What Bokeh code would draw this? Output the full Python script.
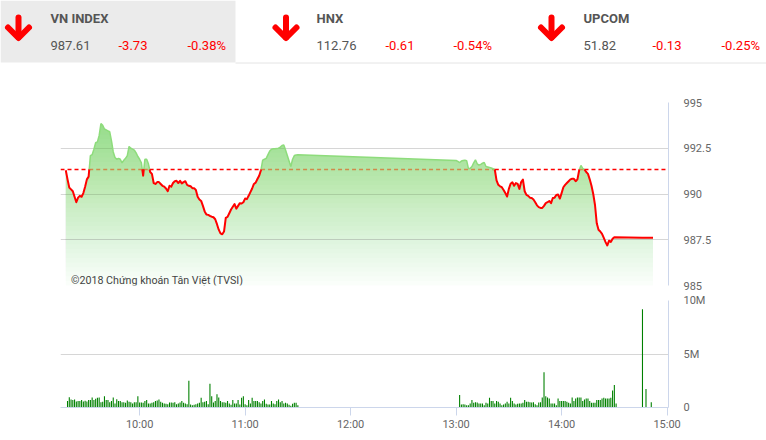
import numpy as np
from bokeh.plotting import figure
from bokeh.layouts import column
from bokeh.models import Range1d, FixedTicker, Label
from bokeh.embed import file_html
from bokeh.resources import INLINE
from bokeh.core.properties import value

# ---------------- data ----------------
idx_names = ["VN INDEX", "HNX", "UPCOM"]
idx_values = ["987.61", "112.76", "51.82"]
idx_changes = ["-3.73", "-0.61", "-0.13"]
idx_pcts = ["-0.38%", "-0.54%", "-0.25%"]

ref_price = 991.34

price_morning_start = "09:18"
price_morning = [
    991.30, 990.80, 990.35, 990.25, 990.15, 989.85, 989.55, 989.80, 989.90, 989.85,
    990.05, 990.40, 990.80, 990.95, 992.10, 992.15, 992.45, 992.80, 992.85, 993.20,
    993.85, 993.75, 993.55, 993.50, 993.45, 993.40, 992.90, 992.30, 992.00, 991.90,
    991.95, 991.90, 991.70, 991.85, 991.95, 992.10, 992.60, 992.50, 992.45, 992.40,
    992.25, 992.05, 991.90, 991.70, 991.00, 991.90, 991.90, 991.65, 991.20, 991.10,
    990.60, 990.55, 990.65, 990.65, 990.55, 990.45, 990.40, 990.30, 990.15, 990.45,
    990.40, 990.60, 990.70, 990.72, 990.60, 990.72, 990.58, 990.65, 990.70, 990.50,
    990.45, 990.42, 990.32, 990.32, 990.22, 989.85, 989.70, 989.62, 989.35, 989.05,
    988.88, 988.86, 988.80, 988.76, 988.73, 988.62, 988.35, 988.05, 987.85, 987.80,
    987.95, 988.70, 988.75, 988.95, 989.15, 989.30, 989.45, 989.20, 989.35, 989.50,
    989.48, 989.55, 989.75, 989.72, 989.90, 990.10, 990.30, 990.55, 990.62, 990.82,
    991.00, 991.30, 991.85, 991.90, 991.95, 992.15, 992.35, 992.45, 992.47, 992.47,
    992.48, 992.50, 992.56, 992.65, 992.68, 992.40, 992.10, 991.80, 991.50, 991.90,
    992.10, 992.13, 992.14,
]

price_afternoon_start = "13:00"
price_afternoon = [
    991.83, 991.78, 991.72, 991.80, 991.83, 991.85, 991.82, 991.40, 991.40, 991.50,
    991.70, 991.87, 991.65, 991.58, 991.62, 991.68, 991.72, 991.50, 991.48, 991.45,
    991.42, 991.38, 991.34, 990.74, 990.50, 990.42, 990.37, 990.22, 990.05, 989.86,
    990.28, 990.56, 990.64, 990.45, 990.60, 990.55, 990.28, 990.65, 990.79, 990.15,
    989.95, 989.90, 989.80, 989.78, 989.70, 989.55, 989.38, 989.28, 989.24, 989.24,
    989.35, 989.50, 989.55, 989.62, 989.50, 989.78, 989.80, 989.95, 989.97, 989.75,
    990.05, 990.37, 990.50, 990.60, 990.70, 990.80, 990.83, 990.83, 990.70, 990.80,
    991.30, 991.56, 991.40, 991.34, 991.20, 991.10, 990.80, 990.45, 990.00, 989.40,
    988.40, 988.05, 987.95, 987.82, 987.60, 987.37, 987.19, 987.45, 987.38, 987.55,
    987.64,
]

price_tail_times = ["14:46", "14:52"]
price_tail = [987.61, 987.61]

# volume, millions of shares per minute
vol_morning_start = "09:19"
vol_morning = [
    0.60, 0.95, 0.75, 0.70, 0.75, 0.55, 0.60, 0.60, 0.70, 0.55,
    0.62, 0.55, 0.70, 0.70, 0.94, 0.70, 0.81, 0.90, 0.94, 0.50,
    0.53, 1.06, 0.70, 0.70, 0.50, 0.60, 0.94, 0.38, 0.78, 0.60,
    0.60, 0.50, 0.50, 0.44, 0.66, 0.53, 0.50, 0.38, 0.50, 0.50,
    1.06, 0.47, 0.47, 0.44, 0.60, 0.70, 0.38, 0.38, 0.44, 0.50,
    0.60, 0.66, 0.75, 0.53, 0.44, 0.38, 0.34, 0.31, 0.47, 0.47,
    0.44, 0.50, 0.31, 0.38, 0.47, 0.60, 0.44, 0.38, 0.31, 2.50,
    0.28, 0.22, 0.25, 0.31, 0.38, 0.44, 0.90, 0.50, 0.53, 0.60,
    0.31, 2.22, 1.06, 0.47, 0.60, 1.25, 0.94, 0.60, 0.50, 0.50,
    0.44, 0.60, 0.38, 0.25, 0.69, 0.38, 0.38, 0.69, 0.28, 0.90,
    1.06, 0.31, 0.22, 0.69, 0.38, 0.90, 0.60, 0.60, 0.60, 0.50,
    0.38, 0.60, 0.75, 0.34, 0.28, 0.28, 0.60, 0.38, 0.31, 0.60,
    0.75, 0.50, 0.60, 0.38, 0.44, 0.38, 0.25, 0.16, 0.34, 0.44,
    0.44, 0.20,
]

vol_afternoon_start = "13:02"
vol_afternoon = [
    1.16, 0.28, 0.31, 0.28, 0.22, 0.22, 0.38, 0.69, 0.44, 0.50,
    0.47, 0.38, 0.38, 0.38, 0.22, 0.44, 0.38, 0.90, 0.60, 0.60,
    0.38, 0.60, 0.53, 0.38, 0.22, 0.28, 0.38, 0.53, 0.38, 0.90,
    0.60, 0.38, 0.28, 0.34, 0.38, 0.38, 0.44, 0.69, 0.53, 0.53,
    0.50, 0.47, 0.50, 0.31, 0.22, 0.47, 0.50, 0.94, 3.30, 1.06,
    0.94, 0.84, 0.38, 0.38, 0.38, 0.22, 0.85, 0.60, 0.60, 0.60,
    0.60, 0.53, 0.44, 0.38, 0.94, 0.60, 0.84, 0.94, 0.94, 0.94,
    0.60, 0.75, 0.84, 0.84, 0.60, 0.44, 0.44, 0.44, 0.69, 0.69,
    0.69, 0.84, 0.90, 0.84, 0.84, 0.84, 0.90, 1.60, 2.10, 0.38,
]

vol_tail_times = ["14:38", "14:46", "14:48", "14:51"]
vol_tail = [0.05, 9.19, 1.72, 0.50]

time_tick_labels = ["10:00", "11:00", "12:00", "13:00", "14:00", "15:00"]
price_ticks = [985, 987.5, 990, 992.5, 995]
price_tick_labels = ["985", "987.5", "990", "992.5", "995"]
vol_ticks = [0, 5e6, 10e6]
vol_tick_labels = ["0", "5M", "10M"]

watermark = "©2018 Chứng khoán Tân Việt (TVSI)"


def to_min(s):
    h, m = s.split(":")
    return int(h) * 60 + int(m)


# ---------------- derived arrays ----------------
t_price = np.concatenate([
    to_min(price_morning_start) + np.arange(len(price_morning)),
    to_min(price_afternoon_start) + np.arange(len(price_afternoon)),
    np.array([to_min(s) for s in price_tail_times]),
]).astype(float)
y_price = np.array(price_morning + price_afternoon + price_tail, dtype=float)

t_vol = np.concatenate([
    to_min(vol_morning_start) + np.arange(len(vol_morning)),
    to_min(vol_afternoon_start) + np.arange(len(vol_afternoon)),
    np.array([to_min(s) for s in vol_tail_times]),
]).astype(float)
y_vol = np.array(vol_morning + vol_afternoon + vol_tail, dtype=float) * 1e6

# insert threshold crossings so line colour switches exactly at the reference
xs_l, ys_l = [t_price[0]], [y_price[0]]
for i in range(1, len(t_price)):
    a0, a1 = y_price[i - 1], y_price[i]
    if (a0 - ref_price) * (a1 - ref_price) < 0:
        tc = t_price[i - 1] + (ref_price - a0) / (a1 - a0) * (t_price[i] - t_price[i - 1])
        xs_l.append(tc)
        ys_l.append(ref_price)
    xs_l.append(t_price[i])
    ys_l.append(a1)
xs_l = np.array(xs_l)
ys_l = np.array(ys_l)
eps = 1e-9
y_red = np.where(ys_l <= ref_price + eps, ys_l, np.nan)
y_green = np.where(ys_l >= ref_price - eps, ys_l, np.nan)

FONT = "Roboto"
W = 766

# ---------------- header ----------------
hdr = figure(width=W, height=92, x_range=Range1d(0, W), y_range=Range1d(92, 0),
             x_axis_location=None, y_axis_location=None, toolbar_location=None,
             output_backend="svg", min_border=0)
hdr.frame_align = False
hdr.grid.visible = False
hdr.outline_line_color = None
hdr.quad(left=[0], right=[235], top=[0], bottom=[62], fill_color="#ebebeb", line_color=None)
hdr.segment(x0=[235], y0=[62.5], x1=[W], y1=[62.5], line_color="#e4e4e4", line_width=1)

arrow_cx = [18, 285.5, 551]
axs, ays = [], []
for cx in arrow_cx:
    axs += [[cx, cx], [cx - 10.5, cx, cx + 10.5]]
    ays += [[17, 37], [27, 37.5, 27]]
hdr.multi_line(xs=axs, ys=ays, line_color="#ff0000", line_width=6,
               line_cap="round", line_join="round")

name_x = [50, 316, 583]
chg_x = [118, 385, 652]
pct_x = [187, 453, 721]
hdr.text(x=name_x, y=[18] * 3, text=idx_names, text_font=value(FONT),
         text_font_style="bold", text_font_size="13px", text_color="#555555",
         text_baseline="middle")
hdr.text(x=name_x, y=[45] * 3, text=idx_values, text_font=value(FONT),
         text_font_size="13px", text_color="#555555", text_baseline="middle")
hdr.text(x=chg_x, y=[45] * 3, text=idx_changes, text_font=value(FONT),
         text_font_size="13px", text_color="#ff0000", text_baseline="middle")
hdr.text(x=pct_x, y=[45] * 3, text=idx_pcts, text_font=value(FONT),
         text_font_size="13px", text_color="#ff0000", text_baseline="middle")

# ---------------- price pane ----------------
x_range = Range1d(555, 900.8)
pf = figure(width=W, height=200, x_range=x_range, y_range=Range1d(985, 995),
            x_axis_location=None, y_axis_location="right", toolbar_location=None,
            output_backend="svg", min_border_left=60, min_border_right=98,
            min_border_top=10, min_border_bottom=7)
pf.outline_line_color = None
pf.xgrid.visible = False
pticker = FixedTicker(ticks=price_ticks)
pf.ygrid.ticker = pticker
pf.ygrid.grid_line_color = "#d6d6d6"
ya = pf.yaxis[0]
ya.ticker = pticker
ya.major_label_overrides = {t: l for t, l in zip(price_ticks, price_tick_labels)}
ya.axis_line_color = "#ccd6eb"
ya.major_tick_line_color = None
ya.minor_tick_line_color = None
ya.major_tick_out = 0
ya.major_tick_in = 0
ya.major_label_standoff = 15
ya.major_label_text_font = FONT
ya.major_label_text_font_size = "11px"
ya.major_label_text_color = "#666666"

# gradient area built from stacked translucent layers
N = 40
lo, hi = 985.0, 995.0
levels = lo + (hi - lo) * np.arange(N) / N
cov = 0.03 + (0.72 - 0.03) * np.arange(N) / (N - 1)
prev = 0.0
for k in range(N):
    a = 1 - (1 - cov[k]) / (1 - prev)
    prev = cov[k]
    pf.varea(x=t_price, y1=levels[k], y2=np.maximum(y_price, levels[k]),
             fill_color="#6ed65a", fill_alpha=float(a))

# reference (previous close) line: red over white, muted where it sits under the area
ref_x = np.concatenate([[x_range.start], xs_l, [x_range.end]])
ref_side = np.concatenate([[ref_price - 1], ys_l, [ref_price - 1]])
ref_red = np.where(ref_side <= ref_price + eps, ref_price, np.nan)
ref_under = np.where(ref_side >= ref_price - eps, ref_price, np.nan)
pf.line(ref_x, ref_under, line_color="#d08a4a", line_dash="4 3", line_width=1.5)
pf.line(ref_x, ref_red, line_color="#ff0000", line_dash="4 3", line_width=1.5)

pf.line(xs_l, y_green, line_color="#8edc7c", line_width=1.5)
pf.line(xs_l, y_red, line_color="#ff0000", line_width=2, line_join="round")

pf.add_layout(Label(x=561, y=985.25, text=watermark, text_font=FONT,
                    text_font_size="10.7px", text_color="#444444",
                    text_baseline="alphabetic"))

# ---------------- volume pane ----------------
vf = figure(width=W, height=146, x_range=x_range, y_range=Range1d(0, 10e6),
            y_axis_location="right", toolbar_location=None, output_backend="svg",
            min_border_left=60, min_border_right=98, min_border_top=8,
            min_border_bottom=31)
vf.outline_line_color = None
vf.xgrid.visible = False
vticker = FixedTicker(ticks=vol_ticks)
vf.ygrid.ticker = vticker
vf.ygrid.grid_line_color = "#d6d6d6"
vy = vf.yaxis[0]
vy.ticker = vticker
vy.major_label_overrides = {t: l for t, l in zip(vol_ticks, vol_tick_labels)}
vy.axis_line_color = "#ccd6eb"
vy.major_tick_line_color = None
vy.minor_tick_line_color = None
vy.major_tick_out = 0
vy.major_tick_in = 0
vy.major_label_standoff = 15
vy.major_label_text_font = FONT
vy.major_label_text_font_size = "11px"
vy.major_label_text_color = "#666666"

time_ticks = [to_min(s) for s in time_tick_labels]
vx = vf.xaxis[0]
vx.ticker = FixedTicker(ticks=time_ticks)
vx.major_label_overrides = {t: l for t, l in zip(time_ticks, time_tick_labels)}
vx.axis_line_color = "#ccd6eb"
vx.major_tick_line_color = "#ccd6eb"
vx.minor_tick_line_color = None
vx.major_tick_in = 0
vx.major_tick_out = 8
vx.major_label_standoff = 2
vx.major_label_text_font = FONT
vx.major_label_text_font_size = "11px"
vx.major_label_text_color = "#666666"

vf.vbar(x=t_vol, top=y_vol, bottom=0, width=0.62, fill_color="#008000", line_color=None)

layout = column(hdr, pf, vf, spacing=0)
open("out.html", "w").write(file_html(layout, INLINE))
